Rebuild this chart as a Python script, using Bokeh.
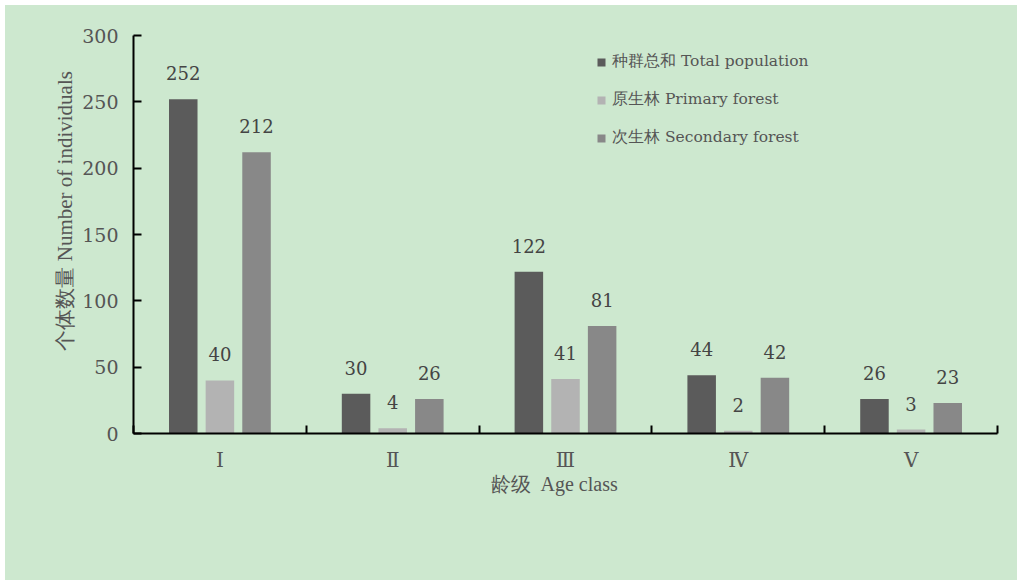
from bokeh.plotting import figure
from bokeh.models import (ColumnDataSource, Range1d, FixedTicker, Legend, LegendItem, Title)
from bokeh.transform import dodge
from bokeh.core.properties import value
from bokeh.embed import file_html
from bokeh.resources import INLINE

age_classes = ["Ⅰ", "Ⅱ", "Ⅲ", "Ⅳ", "Ⅴ"]
total_population = [252, 30, 122, 44, 26]
primary_forest = [40, 4, 41, 2, 3]
secondary_forest = [212, 26, 81, 42, 23]
series_names = ["种群总和 Total population", "原生林 Primary forest", "次生林 Secondary forest"]
series_colors = ["#5b5b5b", "#b3b3b3", "#888888"]
y_ticks = [0, 50, 100, 150, 200, 250, 300]
x_title = "龄级\u00a0\u00a0Age class"
y_title = "个体数量 Number of individuals"

BG = "#cde8cf"
TXT = "#555555"
SERIF = "DejaVu Serif"
TIMES = "Liberation Serif"

pos = [i + 0.5 for i in range(len(age_classes))]
src = ColumnDataSource(dict(x=pos, total=total_population, primary=primary_forest,
                            secondary=secondary_forest,
                            total_s=[str(v) for v in total_population],
                            primary_s=[str(v) for v in primary_forest],
                            secondary_s=[str(v) for v in secondary_forest]))

p = figure(width=1012, height=575, output_backend="svg", toolbar_location=None,
           x_range=Range1d(0, len(age_classes)), y_range=Range1d(0, 300),
           min_border_left=128, min_border_right=20, min_border_top=30, min_border_bottom=147,
           margin=(5, 0, 0, 5))
p.background_fill_color = None
p.border_fill_color = None
p.styles = {"background-color": BG}
p.outline_line_color = None
p.xgrid.visible = False
p.ygrid.visible = False

offsets = [-0.212, 0.0, 0.212]
cols = ["total", "primary", "secondary"]
renderers = []
for off, col, color in zip(offsets, cols, series_colors):
    r = p.vbar(x=dodge("x", off), top=col, width=0.165, bottom=0, source=src,
               fill_color=color, line_color=None)
    renderers.append(r)
    p.text(x=dodge("x", off), y=col, text=col + "_s", source=src,
           text_align="center", text_baseline="bottom", y_offset=-19,
           text_font=value(SERIF), text_font_size="18px", text_color="#444444")

# axes
xa = p.xaxis[0]
xa.ticker = FixedTicker(ticks=pos, minor_ticks=list(range(len(age_classes) + 1)))
xa.major_label_overrides = {p_: lab for p_, lab in zip(pos, age_classes)}
xa.major_tick_line_color = None
xa.minor_tick_in = 8
xa.minor_tick_out = 0
xa.minor_tick_line_color = "black"
xa.minor_tick_line_width = 2
xa.axis_line_color = "black"
xa.axis_line_width = 2
xa.major_label_text_font = SERIF
xa.major_label_text_font_size = "20px"
xa.major_label_text_color = TXT
xa.major_label_standoff = 8

ya = p.yaxis[0]
ya.ticker = FixedTicker(ticks=y_ticks, minor_ticks=[])
ya.major_tick_in = 8
ya.major_tick_out = 0
ya.major_tick_line_color = "black"
ya.major_tick_line_width = 2
ya.minor_tick_line_color = None
ya.axis_line_color = "black"
ya.axis_line_width = 2
ya.major_label_text_font = SERIF
ya.major_label_text_font_size = "19px"
ya.major_label_text_color = TXT
ya.major_label_standoff = 15

# axis titles as side titles (offset along the axis)
p.add_layout(Title(text=x_title, align="left", offset=357, standoff=-7,
                   text_font=TIMES, text_font_style="normal",
                   text_font_size="20px", text_color=TXT), "below")
p.add_layout(Title(text=y_title, align="left", offset=83, standoff=6,
                   text_font=TIMES, text_font_style="normal",
                   text_font_size="21px", text_color=TXT), "left")

legend = Legend(items=[LegendItem(label=n, renderers=[r]) for n, r in zip(series_names, renderers)],
                location=(463, 285), orientation="vertical",
                glyph_width=10, glyph_height=10, label_height=20, spacing=17,
                label_standoff=6, padding=0, margin=0,
                border_line_color=None, background_fill_alpha=0,
                label_text_font=SERIF, label_text_font_size="15.5px", label_text_color=TXT)
p.add_layout(legend, "center")

open("out.html", "w").write(file_html(p, INLINE))
